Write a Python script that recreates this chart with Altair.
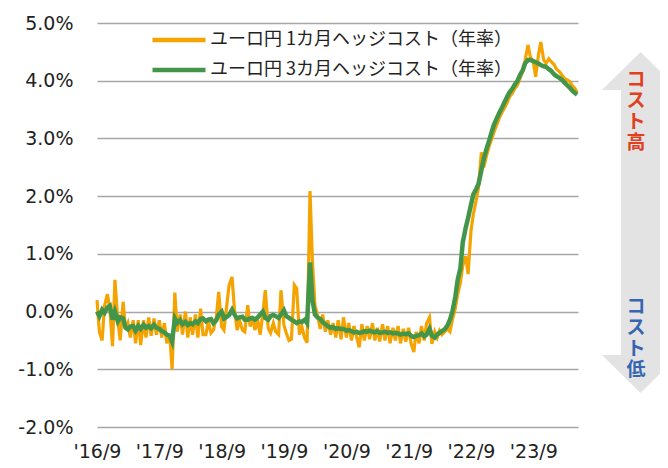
import altair as alt
import pandas as pd

SERIES_1M = "ユーロ円 1カ月ヘッジコスト（年率）"
SERIES_3M = "ユーロ円 3カ月ヘッジコスト（年率）"

# semi-monthly readings (%), starting 2016-09-01
hedge_1m = [
    0.20, -0.35, -0.50, 0.10, 0.30, 0.05, -0.60, 0.55, -0.15, -0.50,
    0.17, -0.30, -0.20, -0.45, -0.15, -0.55, -0.15, -0.58, -0.15, -0.45,
    -0.10, -0.42, -0.12, -0.40, -0.15, -0.45, -0.20, -0.55, -0.40, -1.00,
    0.33, -0.35, -0.05, -0.40, 0.00, -0.45, -0.10, -0.40, -0.05, -0.45,
    0.05, -0.40, -0.40, -0.17, -0.37, -0.32, -0.10, 0.34, -0.26, -0.32,
    0.10, 0.46, 0.60, 0.05, -0.32, -0.15, -0.32, -0.35, 0.11, -0.26,
    -0.10, -0.32, -0.15, -0.40, -0.02, 0.37, -0.29, -0.37, -0.20, -0.35,
    -0.40, 0.37, -0.23, -0.37, -0.50, -0.48, 0.46, 0.40, -0.40, -0.26,
    -0.46, -0.54, 2.09, 0.87, 0.10, -0.05, -0.30, -0.05, -0.35, -0.15,
    -0.40, -0.20, -0.45, -0.15, -0.48, -0.10, -0.45, -0.20, -0.50, -0.25,
    -0.45, -0.62, -0.22, -0.50, -0.25, -0.48, -0.20, -0.50, -0.28, -0.52,
    -0.22, -0.50, -0.25, -0.55, -0.28, -0.50, -0.25, -0.55, -0.30, -0.52,
    -0.28, -0.55, -0.70, -0.35, -0.55, -0.25, -0.50, -0.20, -0.10, -0.56,
    -0.35, -0.45, -0.33, -0.40, -0.35, -0.30, -0.35, -0.14, 0.05, 0.30,
    0.50, 0.80, 0.96, 0.65, 1.40, 1.69, 1.92, 2.15, 2.76, 2.50,
    2.70, 2.85, 3.00, 3.12, 3.25, 3.36, 3.45, 3.52, 3.62, 3.72,
    3.78, 3.86, 3.93, 4.04, 4.16, 4.35, 4.62, 4.41, 4.33, 4.07,
    4.44, 4.67, 4.36, 4.30, 4.38, 4.33, 4.28, 4.20, 4.16, 4.10,
    4.04, 4.02, 3.99, 3.92, 3.87, 3.80,
]

hedge_3m = [
    0.00, -0.08, 0.03, -0.02, 0.07, 0.10, -0.14, 0.00, -0.17, -0.10,
    -0.12, -0.28, -0.31, -0.26, -0.25, -0.33, -0.25, -0.30, -0.23, -0.28,
    -0.25, -0.29, -0.23, -0.28, -0.30, -0.34, -0.36, -0.40, -0.42, -0.52,
    -0.12, -0.20, -0.15, -0.22, -0.18, -0.23, -0.20, -0.22, -0.17, -0.20,
    -0.13, -0.12, -0.17, -0.14, -0.13, -0.20, -0.15, -0.05, 0.00, -0.12,
    -0.09, -0.06, 0.03, -0.05, -0.12, -0.10, -0.09, -0.14, -0.14, -0.12,
    -0.11, -0.14, -0.10, -0.05, 0.00, -0.11, -0.14, -0.08, -0.06, -0.08,
    -0.11, -0.05, 0.02, -0.08, -0.11, -0.14, -0.17, -0.20, -0.17, -0.18,
    -0.14, -0.20, 0.85, 0.20, -0.05, -0.10, -0.13, -0.18, -0.22, -0.25,
    -0.28, -0.27, -0.30, -0.29, -0.30, -0.30, -0.33, -0.32, -0.34, -0.36,
    -0.35, -0.37, -0.36, -0.34, -0.35, -0.33, -0.35, -0.36, -0.34, -0.37,
    -0.36, -0.35, -0.37, -0.36, -0.38, -0.37, -0.38, -0.40, -0.38, -0.39,
    -0.38, -0.42, -0.44, -0.42, -0.41, -0.38, -0.43, -0.40, -0.30, -0.42,
    -0.45, -0.40, -0.37, -0.34, -0.30, -0.25, -0.14, 0.00, 0.25, 0.55,
    0.75, 1.20, 1.45, 1.62, 1.85, 2.03, 2.12, 2.21, 2.45, 2.65,
    2.82, 2.95, 3.12, 3.25, 3.36, 3.45, 3.53, 3.62, 3.72, 3.80,
    3.86, 3.93, 4.00, 4.10, 4.18, 4.30, 4.36, 4.36, 4.34, 4.32,
    4.30, 4.27, 4.25, 4.24, 4.20, 4.17, 4.11, 4.08, 4.05, 4.02,
    3.97, 3.93, 3.88, 3.83, 3.79, 3.76,
]

y_ticks = [-2, -1, 0, 1, 2, 3, 4, 5]
x_tick_years = [2016, 2017, 2018, 2019, 2020, 2021, 2022, 2023]
series_colors = ["#F5A300", "#43954A"]
cost_high = ["コ", "ス", "ト", "高"]
cost_low = ["コ", "ス", "ト", "低"]

n = len(hedge_3m)
dates = pd.date_range("2016-09-01", periods=n, freq="SMS").strftime("%Y-%m-%d").tolist()

df = pd.DataFrame({
    "date": dates + dates,
    "series": [SERIES_1M] * n + [SERIES_3M] * n,
    "value": [v / 100 for v in hedge_1m] + [v / 100 for v in hedge_3m],
})

num_font = "DejaVu Sans"
jp_font = "Noto Sans CJK JP"

x_enc = alt.X(
    "date:T",
    scale=alt.Scale(
        type="utc",
        domain=[alt.DateTime(year=2016, month=9, date=1, utc=True),
                alt.DateTime(year=2024, month=5, date=20, utc=True)],
    ),
    axis=alt.Axis(
        values=[alt.DateTime(year=yr, month=9, date=1, utc=True) for yr in x_tick_years],
        format="'%y/%-m", title=None, grid=False, domain=False, ticks=False,
        labelPadding=15, labelFontSize=19, labelFont=num_font, labelColor="#222222",
        labelFlush=False, labelOverlap=False,
    ),
)
y_enc = alt.Y(
    "value:Q",
    scale=alt.Scale(domain=[-0.02, 0.05], nice=False),
    axis=alt.Axis(
        values=[t / 100 for t in y_ticks], format=".1%",
        labelExpr="replace(datum.label, '\u2212', '-')",
        title=None, grid=True, gridColor="#a6a6a6", gridWidth=1.3,
        domain=False, ticks=False, labelPadding=24, labelFontSize=19,
        labelFont=num_font, labelColor="#222222",
    ),
)
color_enc = alt.Color(
    "series:N",
    scale=alt.Scale(domain=[SERIES_1M, SERIES_3M], range=series_colors),
    legend=alt.Legend(
        orient="none", legendX=53, legendY=8, title=None, symbolType="stroke",
        symbolSize=2809, symbolStrokeWidth=4.5, labelFontSize=18, labelFont=jp_font,
        labelColor="#222222", labelOffset=2, rowPadding=12, clipHeight=18,
        labelLimit=400, padding=0,
    ),
)

base = alt.Chart(df).encode(x=x_enc, y=y_enc, color=color_enc)
line_1m = base.transform_filter(alt.datum.series == SERIES_1M).mark_line(strokeWidth=3.2)
line_3m = base.transform_filter(alt.datum.series == SERIES_3M).mark_line(strokeWidth=4.5)

one = pd.DataFrame({"k": [0]})
ARROW = ("M0,-1L0.226,-0.777L0.114,-0.777L0.114,0.777L0.226,0.777L0,1"
         "L-0.226,0.777L-0.114,0.777L-0.114,-0.777L-0.226,-0.777Z")
arrow = alt.Chart(one).mark_point(
    shape=ARROW, filled=True, size=116281, color="#e3e3e3", opacity=1, strokeWidth=0
).encode(x=alt.value(543.5), y=alt.value(199.5))

text_high = alt.Chart(one).mark_text(
    text=cost_high, font=jp_font, fontSize=19, fontWeight="bold", color="#E0401E",
    baseline="top", align="center", lineHeight=21,
).encode(x=alt.value(539), y=alt.value(48))
text_low = alt.Chart(one).mark_text(
    text=cost_low, font=jp_font, fontSize=19, fontWeight="bold", color="#3766B0",
    baseline="top", align="center", lineHeight=21,
).encode(x=alt.value(539), y=alt.value(275))

chart = alt.layer(line_1m, line_3m, arrow, text_high, text_low).properties(
    width=481, height=404,
    padding={"left": 89, "top": 15, "right": 82, "bottom": 33},
    autosize=alt.AutoSizeParams(type="none"),
).configure_view(strokeWidth=0)

chart.save("out.html", embed_options={"renderer": "svg", "actions": False})
